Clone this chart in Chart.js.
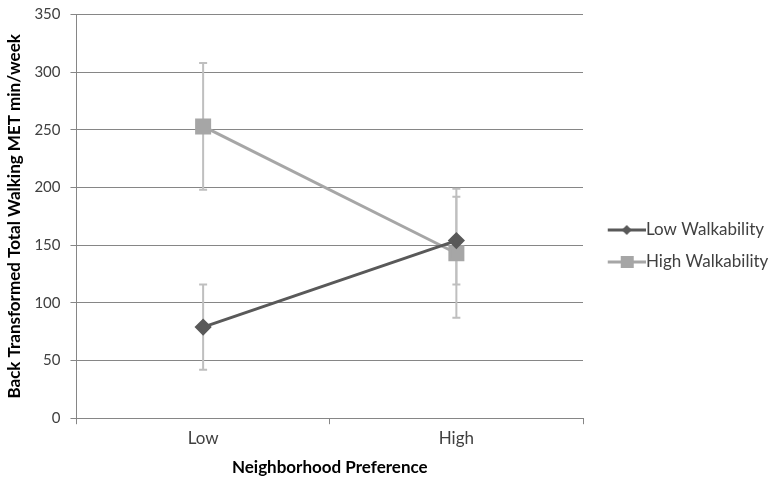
<!DOCTYPE html>
<html>
<head>
<meta charset="utf-8">
<script src="https://cdn.jsdelivr.net/npm/chart.js@4/dist/chart.umd.min.js"></script>
<style>
  body { margin: 0; background: #fff; }
</style>
</head>
<body>
<canvas id="walk-chart" width="776" height="483"></canvas>
<script>
const categories = ['Low', 'High'];
const lowWalk = [79, 154];
const lowWalkErr = [37, 38];
const highWalk = [253, 143];
const highWalkErr = [55, 56];

const darkGray = '#595959';
const lightGray = '#a6a6a6';
const errColor = '#bfbfbf';
const font = 'Lato, "Open Sans", sans-serif';

// little line+marker pictures for the legend (left part left blank on purpose)
function makeIcon(color, shape) {
  const c = document.createElement('canvas');
  c.width = 56; c.height = 14;
  const g = c.getContext('2d');
  g.strokeStyle = color; g.lineWidth = 3;
  g.beginPath(); g.moveTo(18, 7); g.lineTo(56, 7); g.stroke();
  g.fillStyle = color;
  if (shape === 'diamond') {
    g.beginPath(); g.moveTo(37, 2); g.lineTo(42, 7); g.lineTo(37, 12); g.lineTo(32, 7); g.closePath(); g.fill();
  } else {
    g.fillRect(31, 1, 13, 12);
  }
  return c;
}
const legendIcons = [makeIcon(darkGray, 'diamond'), makeIcon(lightGray, 'square')];

const errorBars = {
  id: 'errorBars',
  beforeDatasetsDraw(chart) {
    const ctx = chart.ctx;
    const y = chart.scales.y;
    const errs = [lowWalkErr, highWalkErr];
    ctx.save();
    ctx.strokeStyle = errColor;
    ctx.lineWidth = 2;
    chart.data.datasets.forEach((ds, di) => {
      chart.getDatasetMeta(di).data.forEach((pt, i) => {
        const v = ds.data[i], e = errs[di][i];
        const top = y.getPixelForValue(v + e), bot = y.getPixelForValue(v - e);
        ctx.beginPath();
        ctx.moveTo(pt.x, top); ctx.lineTo(pt.x, bot);
        ctx.moveTo(pt.x - 4, top); ctx.lineTo(pt.x + 4, top);
        ctx.moveTo(pt.x - 4, bot); ctx.lineTo(pt.x + 4, bot);
        ctx.stroke();
      });
    });
    ctx.restore();
  }
};

new Chart(document.getElementById('walk-chart'), {
  type: 'line',
  data: {
    labels: categories,
    datasets: [
      {
        label: 'Low Walkability',
        data: lowWalk,
        borderColor: darkGray,
        backgroundColor: darkGray,
        borderWidth: 3,
        pointStyle: 'rectRot',
        pointRadius: 6.5,
        pointHoverRadius: 6.5
      },
      {
        label: 'High Walkability',
        data: highWalk,
        borderColor: lightGray,
        backgroundColor: lightGray,
        borderWidth: 3,
        pointStyle: 'rect',
        pointRadius: 9.2,
        pointHoverRadius: 9.2
      }
    ]
  },
  options: {
    responsive: false,
    animation: false,
    layout: { padding: { top: 10, right: 0, left: 4, bottom: 1 } },
    plugins: {
      legend: {
        position: 'right',
        labels: {
          usePointStyle: true,
          pointStyleWidth: 39.5,
          padding: 15,
          color: '#404040',
          font: { family: font, size: 17 },
          generateLabels(chart) {
            const items = Chart.defaults.plugins.legend.labels.generateLabels(chart);
            items.forEach((it, i) => { it.pointStyle = legendIcons[i]; });
            return items;
          }
        }
      },
      tooltip: { enabled: false }
    },
    scales: {
      x: {
        offset: true,
        grid: { offset: true, drawOnChartArea: false, color: '#868686', tickLength: 6 },
        border: { color: '#868686' },
        ticks: { color: '#404040', font: { family: font, size: 17 }, padding: 4 },
        title: { display: true, text: 'Neighborhood Preference', color: '#000', font: { family: font, size: 17, weight: 'bold' }, padding: { top: 5 } }
      },
      y: {
        min: 0,
        max: 350,
        ticks: { stepSize: 50, color: '#404040', font: { family: font, size: 15, lineHeight: 0.6 }, padding: 10 },
        grid: { color: '#868686', tickLength: 6 },
        border: { color: '#868686' },
        title: { display: true, text: 'Back Transformed Total Walking MET min/week', color: '#000', font: { family: font, size: 17, weight: 'bold' }, padding: 0 }
      }
    }
  },
  plugins: [errorBars]
});
</script>
</body>
</html>
